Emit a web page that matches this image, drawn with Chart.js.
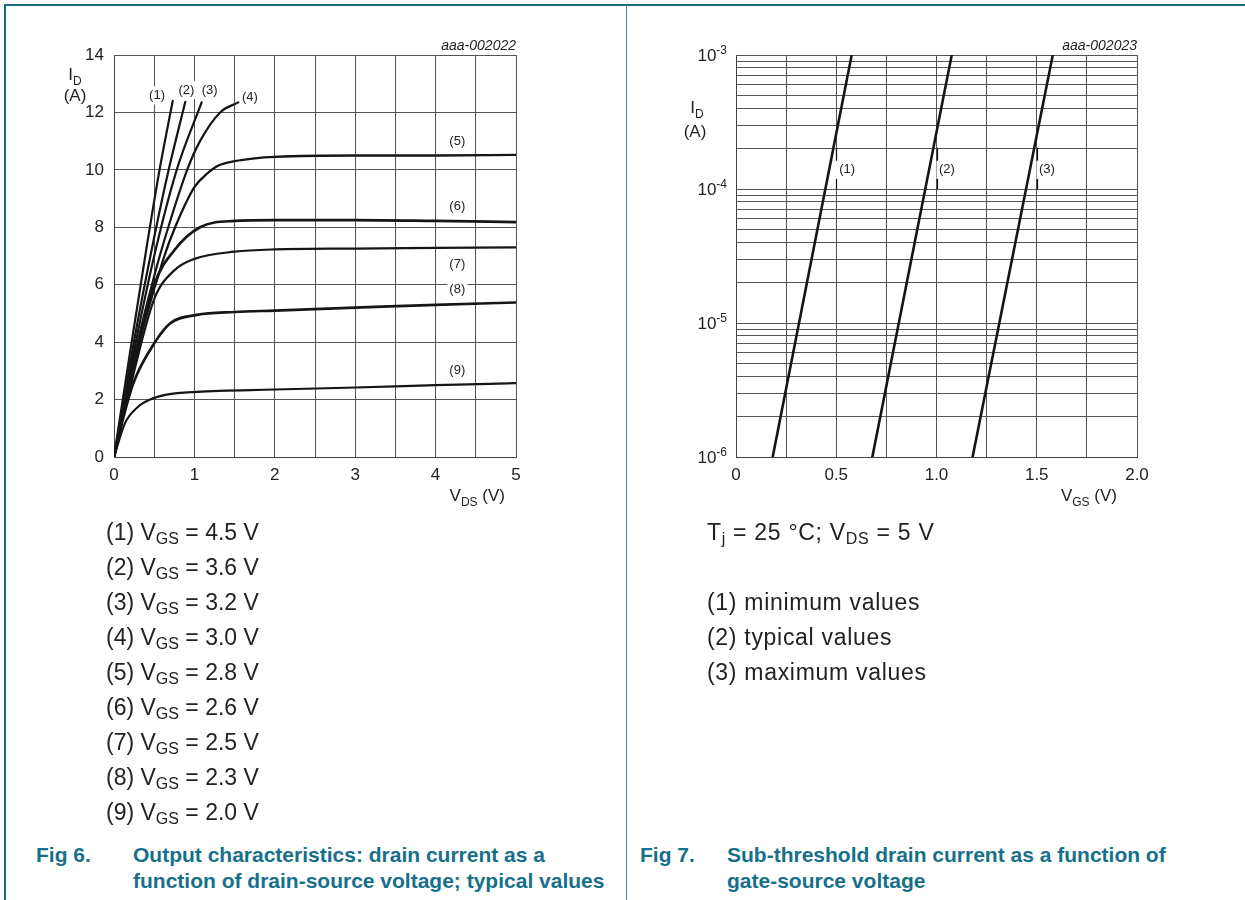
<!DOCTYPE html>
<html><head><meta charset="utf-8">
<script src="https://cdn.jsdelivr.net/npm/chart.js@4"></script>
<style>
body{margin:0;background:#fff;width:1245px;height:900px;overflow:hidden;position:relative;font-family:"Liberation Sans",Arial,sans-serif;color:#222}
.ln{position:absolute;background:#1b6c80}
canvas{position:absolute}
.leg{position:absolute;font-size:23px;line-height:35px;color:#222;white-space:nowrap}
.leg sub{font-size:16px;vertical-align:-4px;line-height:0}
.leg2{letter-spacing:0.7px}
.cap{position:absolute;font-weight:bold;font-size:21px;line-height:26px;color:#17708a;white-space:nowrap}
</style></head><body>
<div class="ln" style="left:4px;top:4px;width:1241px;height:2px"></div>
<div class="ln" style="left:4px;top:4px;width:2px;height:896px"></div>
<div class="ln" style="left:626px;top:5px;width:1px;height:895px;background:#4a8595"></div>
<canvas id="c1" width="626" height="520" style="left:0;top:0"></canvas>
<canvas id="c2" width="619" height="520" style="left:626px;top:0"></canvas>
<div class="leg" style="left:106px;top:515px">(1) V<sub>GS</sub> = 4.5 V<br>(2) V<sub>GS</sub> = 3.6 V<br>(3) V<sub>GS</sub> = 3.2 V<br>(4) V<sub>GS</sub> = 3.0 V<br>(5) V<sub>GS</sub> = 2.8 V<br>(6) V<sub>GS</sub> = 2.6 V<br>(7) V<sub>GS</sub> = 2.5 V<br>(8) V<sub>GS</sub> = 2.3 V<br>(9) V<sub>GS</sub> = 2.0 V</div>
<div class="leg leg2" style="left:707px;top:515px">T<sub>j</sub> = 25 °C; V<sub>DS</sub> = 5 V</div>
<div class="leg leg2" style="left:707px;top:585px">(1) minimum values<br>(2) typical values<br>(3) maximum values</div>
<div class="cap" style="left:36px;top:842px">Fig 6.</div>
<div class="cap" style="left:133px;top:842px">Output characteristics: drain current as a<br>function of drain-source voltage; typical values</div>
<div class="cap" style="left:640px;top:842px">Fig 7.</div>
<div class="cap" style="left:727px;top:842px">Sub-threshold drain current as a function of<br>gate-source voltage</div>
<script>
// ---------- Fig 6 data: V_DS (V) vs I_D (A) ----------
const c1V = [0, 0.2, 0.4, 0.56, 0.73];
const c1I = [0, 3.65, 7.2, 9.9, 12.4];
const c2V = [0, 0.25, 0.5, 0.68, 0.887];
const c2I = [0, 4.05, 7.65, 10.0, 12.37];
const c3V = [0, 0.25, 0.5, 0.78, 1.09];
const c3I = [0, 3.7, 7.0, 10.0, 12.35];
const c4V = [0, 0.25, 0.5, 0.675, 0.91, 1.07, 1.32, 1.546];
const c4I = [0, 3.45, 6.3, 8.0, 10.0, 11.0, 12.0, 12.35];
const c5V = [0, 0.2, 0.61, 0.76, 1.0, 1.15, 1.3, 1.5, 1.75, 2, 3, 4, 5];
const c5I = [0, 2.7, 6.86, 8.0, 9.4, 9.85, 10.15, 10.3, 10.4, 10.45, 10.5, 10.5, 10.52];
const c6V = [0, 0.2, 0.5, 0.75, 1.07, 1.5, 2, 3, 4, 5];
const c6I = [0, 2.6, 6.0, 7.2, 8.0, 8.22, 8.25, 8.25, 8.22, 8.18];
const c7V = [0, 0.2, 0.5, 0.75, 1.0, 1.5, 2, 3, 4, 5];
const c7I = [0, 2.4, 5.5, 6.5, 6.9, 7.15, 7.23, 7.26, 7.28, 7.3];
const c8V = [0, 0.1, 0.24, 0.51, 0.7, 1.03, 1.5, 2, 3, 4, 5];
const c8I = [0, 1.2, 2.57, 4.0, 4.66, 4.95, 5.05, 5.1, 5.2, 5.3, 5.38];
const c9V = [0, 0.137, 0.3, 0.45, 0.655, 1.03, 2, 3, 4, 5];
const c9I = [0, 1.18, 1.75, 2.0, 2.17, 2.27, 2.35, 2.42, 2.5, 2.57];
const curveNames1 = ['(1)', '(2)', '(3)', '(4)', '(5)', '(6)', '(7)', '(8)', '(9)'];
const xTickLabels1 = ['0', '1', '2', '3', '4', '5'];
const yTickLabels1 = ['0', '2', '4', '6', '8', '10', '12', '14'];

// ---------- Fig 7 data: V_GS (V) vs I_D (A), log ----------
const minV = [0.183, 0.577];
const minI = [1e-6, 1e-3];
const typV = [0.68, 1.076];
const typI = [1e-6, 1e-3];
const maxV = [1.18, 1.58];
const maxI = [1e-6, 1e-3];
const curveNames2 = ['(1)', '(2)', '(3)'];
const xTickLabels2 = ['0', '0.5', '1.0', '1.5', '2.0'];
const yDecades2 = [-3, -4, -5, -6];

const FONT = '"Liberation Sans", Arial, sans-serif';
const TXT = '#222';
const GRID = '#555';

function pts(xs, ys) { return xs.map((x, i) => ({x: x, y: ys[i]})); }

function rich(ctx, x, y, parts, fs, align) {
  let w = 0;
  const items = parts.map(([t, k]) => {
    const size = k === 'n' ? fs : Math.round(fs * 0.72);
    ctx.font = size + 'px ' + FONT;
    const m = ctx.measureText(t).width;
    w += m;
    return {t, k, size, m};
  });
  let cx = align === 'right' ? x - w : align === 'center' ? x - w / 2 : x;
  ctx.textAlign = 'left';
  ctx.textBaseline = 'alphabetic';
  for (const it of items) {
    ctx.font = it.size + 'px ' + FONT;
    const dy = it.k === 'sub' ? fs * 0.3 : it.k === 'sup' ? -fs * 0.42 : 0;
    ctx.fillText(it.t, cx, y + dy);
    cx += it.m;
  }
}

function boxLabel(ctx, text, px, py) {
  ctx.font = '13px ' + FONT;
  const w = ctx.measureText(text).width;
  ctx.fillStyle = '#fff';
  ctx.fillRect(px - w / 2 - 2, py - 9, w + 4, 18);
  ctx.fillStyle = TXT;
  ctx.textAlign = 'center';
  ctx.textBaseline = 'middle';
  ctx.fillText(text, px, py);
}

const labelPos1 = [[0.535, 12.59], [0.9, 12.78], [1.19, 12.78], [1.69, 12.53], [4.27, 11.0], [4.27, 8.71], [4.27, 6.72], [4.27, 5.82], [4.27, 3.0]];
const labelPos2 = [[0.554, 1.39e-4, 0.5], [1.052, 1.39e-4, 1.0], [1.551, 1.39e-4, 1.5]];

const deco1 = {
  id: 'deco1',
  beforeDatasetsDraw(chart) {
    const ctx = chart.ctx, xs = chart.scales.x, ys = chart.scales.y;
    ctx.save();
    curveNames1.forEach((n, i) => boxLabel(ctx, n, xs.getPixelForValue(labelPos1[i][0]), ys.getPixelForValue(labelPos1[i][1])));
    ctx.restore();
  },
  afterDraw(chart) {
    const ctx = chart.ctx, a = chart.chartArea;
    ctx.save();
    ctx.fillStyle = TXT;
    rich(ctx, a.left - 39, 80, [['I', 'n'], ['D', 'sub']], 17, 'center');
    rich(ctx, a.left - 39, 101, [['(A)', 'n']], 17, 'center');
    rich(ctx, a.right - 11, 501, [['V', 'n'], ['DS', 'sub'], [' (V)', 'n']], 17, 'right');
    ctx.font = 'italic 14px ' + FONT;
    ctx.textAlign = 'right';
    ctx.textBaseline = 'alphabetic';
    ctx.fillText('aaa-002022', a.right, 50);
    ctx.restore();
  }
};

const deco2 = {
  id: 'deco2',
  beforeDatasetsDraw(chart) {
    const ctx = chart.ctx, xs = chart.scales.x, ys = chart.scales.y;
    ctx.save();
    curveNames2.forEach((n, i) => {
      const px = xs.getPixelForValue(labelPos2[i][0]);
      const py = ys.getPixelForValue(labelPos2[i][1]);
      const gx = Math.round(xs.getPixelForValue(labelPos2[i][2])) + 0.5;
      ctx.strokeStyle = '#111';
      ctx.lineWidth = 1.2;
      ctx.beginPath();
      ctx.moveTo(gx, py - 22); ctx.lineTo(gx, py - 9);
      ctx.moveTo(gx, py + 9); ctx.lineTo(gx, py + 20);
      ctx.stroke();
      ctx.font = '13px ' + FONT;
      const w = ctx.measureText(n).width;
      ctx.fillStyle = '#fff';
      ctx.fillRect(gx - 1, py - 9, px + w / 2 + 3 - gx, 18);
      ctx.fillStyle = TXT;
      ctx.textAlign = 'center';
      ctx.textBaseline = 'middle';
      ctx.fillText(n, px, py);
    });
    ctx.restore();
  },
  afterDraw(chart) {
    const ctx = chart.ctx, a = chart.chartArea, ys = chart.scales.y;
    ctx.save();
    ctx.fillStyle = TXT;
    yDecades2.forEach(e => {
      const y = ys.getPixelForValue(Math.pow(10, e));
      rich(ctx, a.left - 9, y + 6, [['10', 'n'], [String(e), 'sup']], 17, 'right');
    });
    rich(ctx, a.left - 39, 113, [['I', 'n'], ['D', 'sub']], 17, 'center');
    rich(ctx, a.left - 41, 137, [['(A)', 'n']], 17, 'center');
    rich(ctx, a.right - 20, 501, [['V', 'n'], ['GS', 'sub'], [' (V)', 'n']], 17, 'right');
    ctx.font = 'italic 14px ' + FONT;
    ctx.textAlign = 'right';
    ctx.textBaseline = 'alphabetic';
    ctx.fillText('aaa-002023', a.right, 50);
    ctx.restore();
  }
};

function ds(data, w) {
  return {data: data, borderColor: '#151515', borderWidth: w, pointRadius: 0, fill: false, cubicInterpolationMode: 'monotone', borderCapStyle: 'round', borderJoinStyle: 'round'};
}

const tickFont = {family: FONT, size: 17};

new Chart(document.getElementById('c1'), {
  type: 'line',
  data: {datasets: [
    ds(pts(c1V, c1I), 2.2), ds(pts(c2V, c2I), 2.2), ds(pts(c3V, c3I), 2.2), ds(pts(c4V, c4I), 2.2),
    ds(pts(c5V, c5I), 2.3), ds(pts(c6V, c6I), 2.7), ds(pts(c7V, c7I), 2.2), ds(pts(c8V, c8I), 2.7), ds(pts(c9V, c9I), 2.2)
  ]},
  options: {
    responsive: false, animation: false, events: [],
    layout: {padding: {left: 0, right: 110, top: 55, bottom: 0}},
    plugins: {legend: {display: false}, tooltip: {enabled: false}},
    scales: {
      x: {type: 'linear', min: 0, max: 5,
        afterFit: s => { s.height = 63; },
        ticks: {stepSize: 0.5, autoSkip: false, maxRotation: 0, padding: 8, color: TXT, font: tickFont,
          callback: v => Number.isInteger(v) ? xTickLabels1[v] : ''},
        grid: {color: GRID, lineWidth: 1, drawTicks: false},
        border: {display: true, color: '#444', width: 1}},
      y: {type: 'linear', min: 0, max: 14,
        afterFit: s => { s.width = 114; },
        ticks: {stepSize: 2, autoSkip: false, padding: 10, color: TXT, font: tickFont,
          callback: v => yTickLabels1[Math.round(v / 2)]},
        grid: {color: GRID, lineWidth: 1, drawTicks: false},
        border: {display: true, color: '#444', width: 1}}
    }
  },
  plugins: [deco1]
});

new Chart(document.getElementById('c2'), {
  type: 'line',
  data: {datasets: [ds(pts(minV, minI), 2.6), ds(pts(typV, typI), 2.6), ds(pts(maxV, maxI), 2.6)]},
  options: {
    responsive: false, animation: false, events: [],
    layout: {padding: {left: 0, right: 108, top: 55, bottom: 0}},
    plugins: {legend: {display: false}, tooltip: {enabled: false}},
    scales: {
      x: {type: 'linear', min: 0, max: 2,
        afterFit: s => { s.height = 63; },
        ticks: {stepSize: 0.25, autoSkip: false, maxRotation: 0, padding: 8, color: TXT, font: tickFont,
          callback: v => { const k = Math.round(v * 2); return Math.abs(v * 2 - k) < 1e-9 ? xTickLabels2[k] : ''; }},
        grid: {color: GRID, lineWidth: 1, drawTicks: false},
        border: {display: true, color: '#444', width: 1}},
      y: {type: 'logarithmic', min: 1e-6, max: 1e-3,
        afterFit: s => { s.width = 110; },
        afterBuildTicks: s => {
          const t = [];
          for (let e = -6; e <= -4; e++) for (let m = 1; m <= 9; m++) t.push({value: m * Math.pow(10, e)});
          t.push({value: 1e-3});
          s.ticks = t;
        },
        ticks: {autoSkip: false, padding: 10, color: TXT, font: tickFont, callback: () => ''},
        grid: {color: GRID, lineWidth: 1, drawTicks: false},
        border: {display: true, color: '#444', width: 1}}
    }
  },
  plugins: [deco2]
});
</script>
</body></html>
